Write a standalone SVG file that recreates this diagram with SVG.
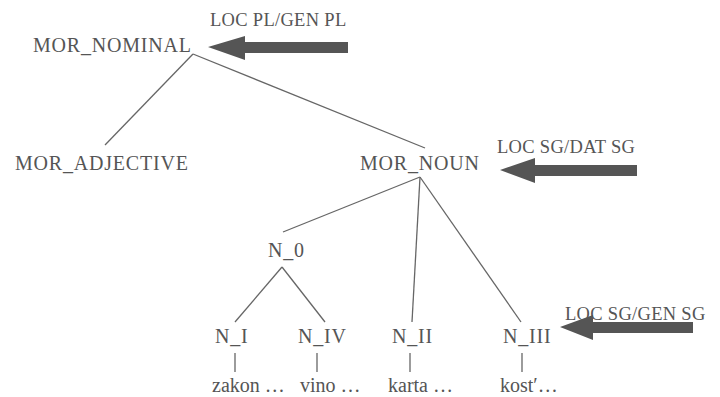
<svg xmlns="http://www.w3.org/2000/svg" width="720" height="397" viewBox="0 0 720 397">
<style>
.t{font-family:"Liberation Serif","Times New Roman",serif;font-size:20px;fill:#555;letter-spacing:0.8px;}
.w{font-family:"Liberation Serif","Times New Roman",serif;font-size:20px;fill:#555;}
.s{font-family:"Liberation Serif","Times New Roman",serif;font-size:18.5px;fill:#555;letter-spacing:0.3px;}
.e{stroke:#666;stroke-width:1.3;fill:none;}
.a{fill:#555;}
</style>
<rect width="720" height="397" fill="#fff"/>
<g id="connectors">
<path class="e" d="M193,54 L105,145"/>
<path class="e" d="M193,54 L425,148"/>
<path class="e" d="M420,177 L283,232"/>
<path class="e" d="M420,177 L412,322"/>
<path class="e" d="M420,177 L521,322"/>
<path class="e" d="M282,267 L235,322"/>
<path class="e" d="M282,267 L325,322"/>
<path class="e" d="M235,353 L235,372"/>
<path class="e" d="M317,353 L317,372"/>
<path class="e" d="M410,353 L410,372"/>
<path class="e" d="M522,353 L522,372"/>
</g>
<g id="MOR_NOMINAL"><text class="t" x="33" y="52">MOR_NOMINAL</text></g>
<g id="arrow1">
<text class="s" x="210" y="26">LOC PL/GEN PL</text>
<polygon class="a" points="208,47 245,36 245,42 348,42 348,53 245,53 245,60"/>
</g>
<g id="MOR_ADJECTIVE"><text class="t" x="15" y="170">MOR_ADJECTIVE</text></g>
<g id="MOR_NOUN"><text class="t" x="360" y="170">MOR_NOUN</text></g>
<g id="arrow2">
<text class="s" x="497" y="153">LOC SG/DAT SG</text>
<polygon class="a" points="500,170 535,158 535,165 637,165 637,176 535,176 535,183"/>
</g>
<g id="N_0"><text class="t" x="268" y="257">N_0</text></g>
<g id="N_I"><text class="t" x="215" y="343">N_I</text></g>
<g id="N_IV"><text class="t" x="298" y="343">N_IV</text></g>
<g id="N_II"><text class="t" x="392" y="343">N_II</text></g>
<g id="N_III"><text class="t" x="503" y="343">N_III</text></g>
<g id="arrow3">
<text class="s" x="565" y="320">LOC SG/GEN SG</text>
<polygon class="a" points="560,327 593,315 593,322 693,322 693,333 593,333 593,340"/>
</g>
<g id="zakon"><text class="w" x="212" y="392">zakon …</text></g>
<g id="vino"><text class="w" x="300" y="392">vino …</text></g>
<g id="karta"><text class="w" x="388" y="392">karta …</text></g>
<g id="kost"><text class="w" x="500" y="392">kost′…</text></g>
</svg>
